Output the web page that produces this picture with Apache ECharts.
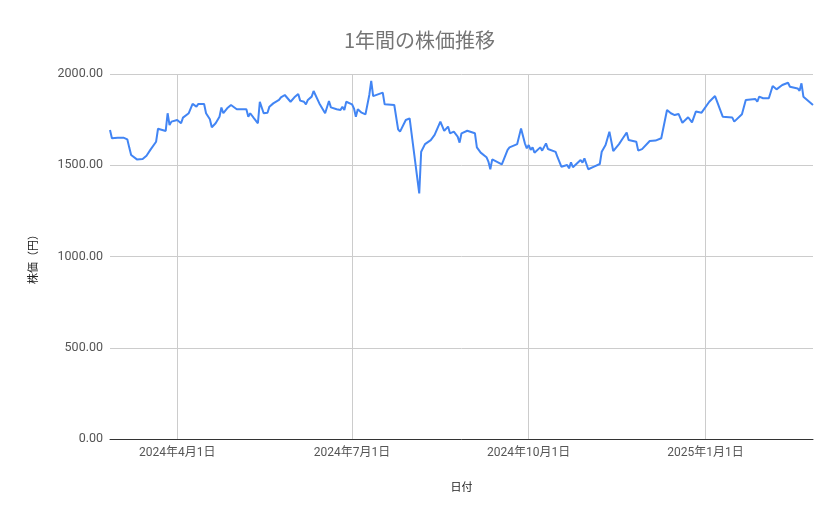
<!DOCTYPE html>
<html>
<head>
<meta charset="utf-8">
<script src="https://cdn.jsdelivr.net/npm/echarts@6/dist/echarts.min.js"></script>
<style>
html,body{margin:0;padding:0;background:#fff;}
#chart{width:839px;height:519px;}
</style>
</head>
<body>
<div id="chart"></div>
<script>
const titleText = '1年間の株価推移';
const xAxisName = '日付';
const yAxisName = '株価（円）';
const yTicks = [0, 500, 1000, 1500, 2000];
const xTickDates = ['2024-04-01', '2024-07-01', '2024-10-01', '2025-01-01'];
const dates = [
'2024-02-26','2024-02-27','2024-02-28','2024-03-01','2024-03-04','2024-03-06','2024-03-07','2024-03-08','2024-03-11','2024-03-12',
'2024-03-14','2024-03-15','2024-03-16','2024-03-18','2024-03-21','2024-03-22','2024-03-26','2024-03-27','2024-03-28','2024-03-29',
'2024-04-01','2024-04-02','2024-04-03','2024-04-04','2024-04-05','2024-04-07','2024-04-09','2024-04-11','2024-04-12','2024-04-15',
'2024-04-16','2024-04-18','2024-04-19','2024-04-21','2024-04-23','2024-04-24','2024-04-25','2024-04-27','2024-04-29','2024-04-30',
'2024-05-02','2024-05-07','2024-05-08','2024-05-09','2024-05-11','2024-05-13','2024-05-14','2024-05-15','2024-05-16','2024-05-18',
'2024-05-19','2024-05-21','2024-05-22','2024-05-24','2024-05-25','2024-05-27','2024-05-30','2024-06-01','2024-06-03','2024-06-04',
'2024-06-06','2024-06-07','2024-06-08','2024-06-10','2024-06-11','2024-06-12','2024-06-14','2024-06-17','2024-06-19','2024-06-20',
'2024-06-23','2024-06-25','2024-06-26','2024-06-27','2024-06-28','2024-06-29','2024-07-01','2024-07-02','2024-07-03','2024-07-04',
'2024-07-06','2024-07-08','2024-07-10','2024-07-11','2024-07-12','2024-07-17','2024-07-18','2024-07-23','2024-07-25','2024-07-26',
'2024-07-29','2024-07-31','2024-08-01','2024-08-05','2024-08-06','2024-08-08','2024-08-11','2024-08-13','2024-08-14','2024-08-16',
'2024-08-18','2024-08-20','2024-08-21','2024-08-23','2024-08-25','2024-08-26','2024-08-27','2024-08-30','2024-08-31','2024-09-03',
'2024-09-04','2024-09-06','2024-09-09','2024-09-10','2024-09-11','2024-09-12','2024-09-17','2024-09-20','2024-09-21','2024-09-25',
'2024-09-27','2024-09-29','2024-09-30','2024-10-01','2024-10-02','2024-10-03','2024-10-04','2024-10-07','2024-10-08','2024-10-10',
'2024-10-11','2024-10-15','2024-10-16','2024-10-18','2024-10-21','2024-10-22','2024-10-23','2024-10-24','2024-10-25','2024-10-28',
'2024-10-29','2024-10-30','2024-11-01','2024-11-04','2024-11-07','2024-11-08','2024-11-10','2024-11-12','2024-11-14','2024-11-17',
'2024-11-19','2024-11-21','2024-11-22','2024-11-26','2024-11-27','2024-11-29','2024-12-03','2024-12-06','2024-12-09','2024-12-12',
'2024-12-14','2024-12-16','2024-12-18','2024-12-20','2024-12-23','2024-12-25','2024-12-27','2024-12-30','2024-12-31','2025-01-03',
'2025-01-06','2025-01-07','2025-01-10','2025-01-15','2025-01-16','2025-01-20','2025-01-22','2025-01-27','2025-01-28','2025-01-29',
'2025-01-31','2025-02-03','2025-02-05','2025-02-06','2025-02-07','2025-02-10','2025-02-13','2025-02-14','2025-02-18','2025-02-19',
'2025-02-20','2025-02-21','2025-02-26'
];
const prices = [
1693,1648,1638,1651,1651,1642,1598,1556,1532,1538,
1534,1541,1552,1584,1629,1700,1688,1785,1720,1739,
1748,1752,1730,1761,1753,1785,1836,1821,1836,1836,
1785,1752,1708,1730,1766,1816,1785,1812,1830,1839,
1807,1807,1766,1785,1757,1730,1848,1848,1785,1788,
1821,1839,1830,1858,1872,1885,1848,1872,1890,1854,
1848,1834,1858,1876,1907,1898,1839,1785,1852,1817,
1807,1803,1821,1803,1848,1843,1834,1812,1766,1807,
1788,1779,1885,1962,1879,1898,1834,1830,1697,1684,
1748,1757,1752,1346,1574,1616,1638,1666,1657,1739,
1688,1712,1675,1684,1657,1624,1675,1689,1688,1675,
1598,1569,1544,1520,1478,1532,1505,1584,1598,1616,
1702,1620,1593,1611,1584,1598,1569,1598,1580,1620,
1589,1573,1544,1492,1501,1483,1516,1489,1481,1529,
1514,1538,1478,1492,1507,1574,1611,1684,1578,1616,
1648,1679,1638,1629,1580,1588,1633,1635,1648,1803,
1785,1775,1781,1733,1763,1735,1794,1788,1794,1848,
1879,1879,1766,1761,1739,1779,1858,1863,1848,1876,
1867,1867,1934,1940,1916,1940,1952,1930,1921,1908,
1949,1876,1830
];

const chart = echarts.init(document.getElementById('chart'));
const toTime = s => Date.parse(s + 'T00:00:00Z');
const seriesData = dates.map((d, i) => [toTime(d), prices[i]]);
const xTickValues = xTickDates.map(toTime);
const fontFamily = 'Roboto, "Noto Sans CJK JP", sans-serif';

chart.setOption({
  animation: false,
  backgroundColor: '#ffffff',
  title: {
    text: titleText,
    left: 'center',
    top: 25,
    textStyle: { fontSize: 20, fontWeight: 'normal', color: '#757575', fontFamily: '"Noto Sans CJK JP", Roboto, sans-serif' }
  },
  grid: { left: 110, right: 26, top: 74, bottom: 80, containLabel: false },
  xAxis: {
    type: 'value',
    min: toTime(dates[0]),
    max: toTime(dates[dates.length - 1]),
    name: xAxisName,
    nameLocation: 'middle',
    nameGap: 42,
    nameTextStyle: { fontSize: 11, color: '#222', fontFamily: '"Noto Sans CJK JP", sans-serif' },
    axisLine: { show: true, lineStyle: { color: '#333', width: 1 } },
    axisTick: { show: false, customValues: xTickValues },
    axisLabel: {
      customValues: xTickValues,
      color: '#555',
      fontSize: 12,
      margin: 8,
      fontFamily: fontFamily,
      formatter: function (v) {
        const d = new Date(v);
        return d.getUTCFullYear() + '年' + (d.getUTCMonth() + 1) + '月' + d.getUTCDate() + '日';
      }
    },
    splitLine: { show: true, lineStyle: { color: '#cccccc', width: 1 } }
  },
  yAxis: {
    type: 'value',
    min: yTicks[0],
    max: yTicks[yTicks.length - 1],
    interval: 500,
    name: yAxisName,
    nameLocation: 'middle',
    nameRotate: 90,
    nameGap: 72,
    nameTextStyle: { fontSize: 11, color: '#222', fontFamily: '"Noto Sans CJK JP", sans-serif' },
    axisLine: { show: false },
    axisTick: { show: false },
    axisLabel: {
      color: '#555',
      fontSize: 12.5,
      margin: 7,
      fontFamily: fontFamily,
      formatter: function (v) { return v.toFixed(2); }
    },
    splitLine: { show: true, lineStyle: { color: '#cccccc', width: 1 } }
  },
  series: [{
    type: 'line',
    data: seriesData,
    showSymbol: false,
    symbol: 'none',
    lineStyle: { color: '#4285f4', width: 2 },
    itemStyle: { color: '#4285f4' }
  }]
});
</script>
</body>
</html>
